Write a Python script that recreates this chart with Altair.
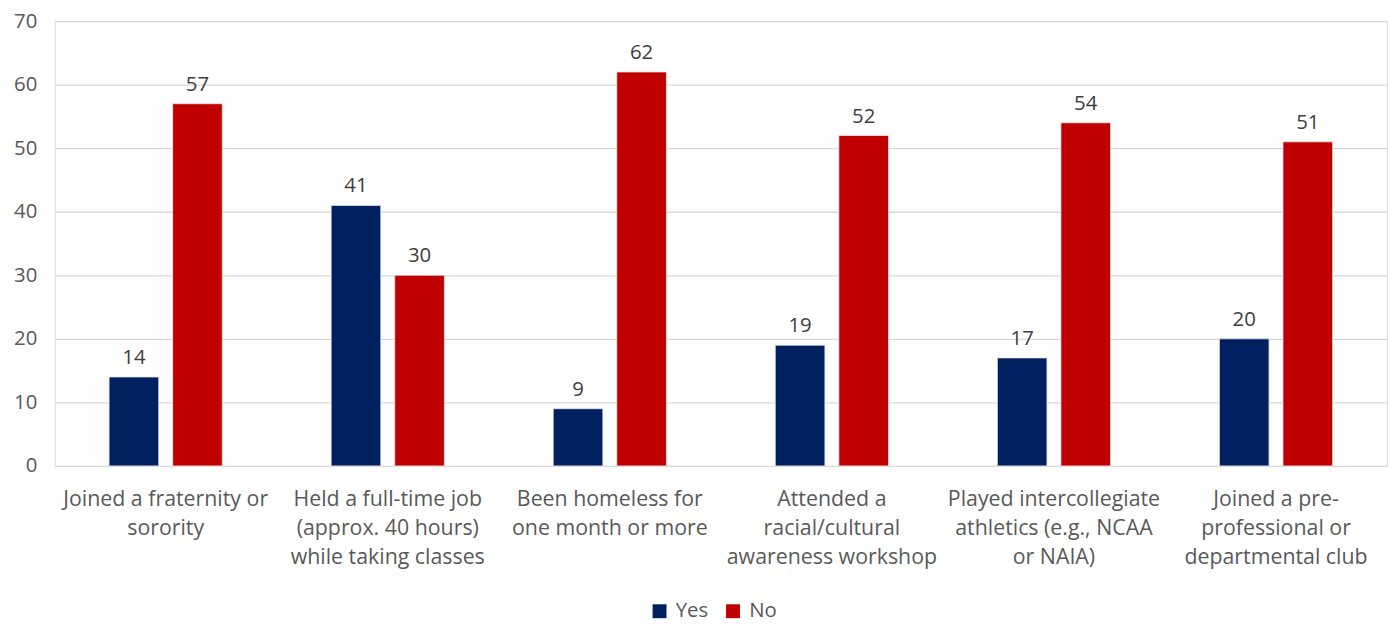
import altair as alt
import pandas as pd

categories = [
    "Joined a fraternity or|sorority",
    "Held a full-time job|(approx. 40 hours)|while taking classes",
    "Been homeless for|one month or more",
    "Attended a|racial/cultural|awareness workshop",
    "Played intercollegiate|athletics (e.g., NCAA|or NAIA)",
    "Joined a pre-|professional or|departmental club",
]
series = ["Yes", "No"]
yes_values = [14, 41, 9, 19, 17, 20]
no_values = [57, 30, 62, 52, 54, 51]
colors = ["#002060", "#C00000"]
y_ticks = [0, 10, 20, 30, 40, 50, 60, 70]

rows = []
for c, y, n in zip(categories, yes_values, no_values):
    rows.append({"category": c, "series": "Yes", "value": y})
    rows.append({"category": c, "series": "No", "value": n})
df = pd.DataFrame(rows)

FONT = "Open Sans"
GREY = "#595959"

x_enc = alt.X(
    "category:N",
    sort=categories,
    scale=alt.Scale(paddingInner=0.49, paddingOuter=0.245),
    axis=alt.Axis(
        title=None,
        labelAngle=0,
        labelExpr="split(datum.label, '|')",
        labelFont=FONT,
        labelFontSize=21.5,
        labelColor=GREY,
        labelLineHeight=29,
        labelLimit=400,
        labelPadding=23,
        ticks=False,
        domain=False,
        grid=False,
    ),
)
xoff = alt.XOffset("series:N", sort=series, scale=alt.Scale(paddingInner=0.219, paddingOuter=0))
y_enc = alt.Y(
    "value:Q",
    scale=alt.Scale(domain=[0, 70], nice=False),
    axis=alt.Axis(
        title=None,
        values=y_ticks,
        labelFont=FONT,
        labelFontSize=20.5,
        labelColor=GREY,
        labelPadding=18,
        ticks=False,
        domain=False,
        gridColor="#D9D9D9",
        gridWidth=1.3,
    ),
)

base = alt.Chart(df)

bars = base.mark_bar(stroke="#E8E8E8", strokeWidth=0.8).encode(
    x=x_enc,
    xOffset=xoff,
    y=y_enc,
    color=alt.Color(
        "series:N",
        sort=series,
        scale=alt.Scale(domain=series, range=colors),
        legend=alt.Legend(
            title=None,
            orient="none",
            direction="horizontal",
            legendX=599,
            legendY=584,
            symbolType="square",
            symbolSize=196,
            symbolStrokeWidth=0,
            labelFont=FONT,
            labelFontSize=20.5,
            labelColor=GREY,
            columnPadding=14,
            labelOffset=6,
        ),
    ),
)

labels = base.mark_text(
    baseline="bottom", dy=-9, font=FONT, fontSize=20.5, color="#404040"
).encode(
    x=alt.X("category:N", sort=categories),
    xOffset=alt.XOffset("series:N", sort=series),
    y=alt.Y("value:Q"),
    text=alt.Text("value:Q"),
)

chart = (
    alt.layer(bars, labels)
    .properties(width=1342, height=448, padding={"left": 5, "top": 1, "right": 5, "bottom": 0})
    .configure_view(stroke=None)
    .configure(background="white")
)

chart.save("out.html", embed_options={"renderer": "svg", "actions": False})
